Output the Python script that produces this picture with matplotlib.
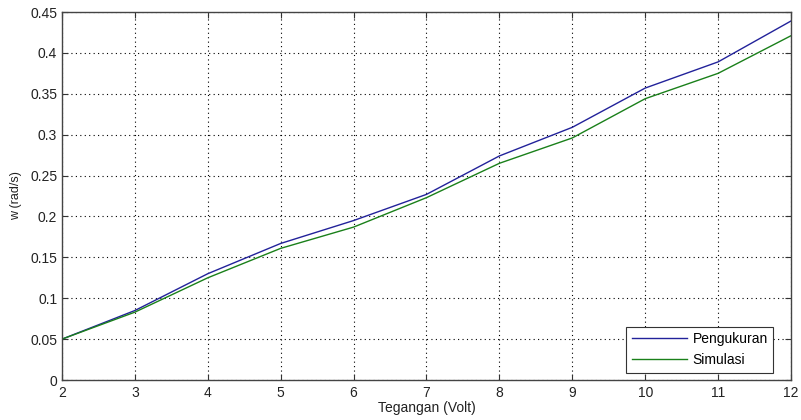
import matplotlib
matplotlib.use("Agg")
import matplotlib.pyplot as plt
from matplotlib.ticker import FuncFormatter

plt.rcParams['font.family'] = ['Liberation Sans', 'DejaVu Sans']

tegangan = [2, 3, 4, 5, 6, 7, 8, 9, 10, 11, 12]
pengukuran = [0.050, 0.085, 0.130, 0.167, 0.195, 0.227, 0.274, 0.309, 0.357, 0.389, 0.439]
simulasi = [0.050, 0.083, 0.125, 0.161, 0.187, 0.223, 0.265, 0.296, 0.344, 0.375, 0.421]
yticks = [0, 0.05, 0.1, 0.15, 0.2, 0.25, 0.3, 0.35, 0.4, 0.45]

fig = plt.figure(figsize=(8.01, 4.20), dpi=100)
ax = fig.add_axes([0.0774, 0.0952, 0.9101, 0.8762])

ax.plot(tegangan, pengukuran, color='#22229a', lw=1.0, label='Pengukuran')
ax.plot(tegangan, simulasi, color='#1a801a', lw=1.0, label='Simulasi')

ax.set_xlim(2, 12)
ax.set_ylim(0, 0.45)
ax.set_xticks(range(2, 13))
ax.set_yticks(yticks)
ax.yaxis.set_major_formatter(FuncFormatter(lambda v, p: '%g' % v))

ax.grid(True, linestyle=(0, (1, 3)), color='black', lw=0.8)
ax.tick_params(direction='in', top=True, right=True, length=4, labelsize=10,
               colors='#333333', labelcolor='#222222')
ax.tick_params(axis='x', pad=4)
for s in ax.spines.values():
    s.set_color('#444444')
    s.set_linewidth(1.0)

ax.set_xlabel('Tegangan (Volt)', fontsize=10, labelpad=1, color='#222222')
ax.set_ylabel('w (rad/s)', fontsize=9, labelpad=6, color='#222222')

leg = ax.legend(loc='lower right', bbox_to_anchor=(0.976, 0.02), borderaxespad=0,
                fancybox=False, fontsize=10, handlelength=4.0, handletextpad=0.4,
                framealpha=1)
leg.get_frame().set_edgecolor('#333333')
leg.get_frame().set_linewidth(0.8)

fig.savefig('out.png', dpi=100)
